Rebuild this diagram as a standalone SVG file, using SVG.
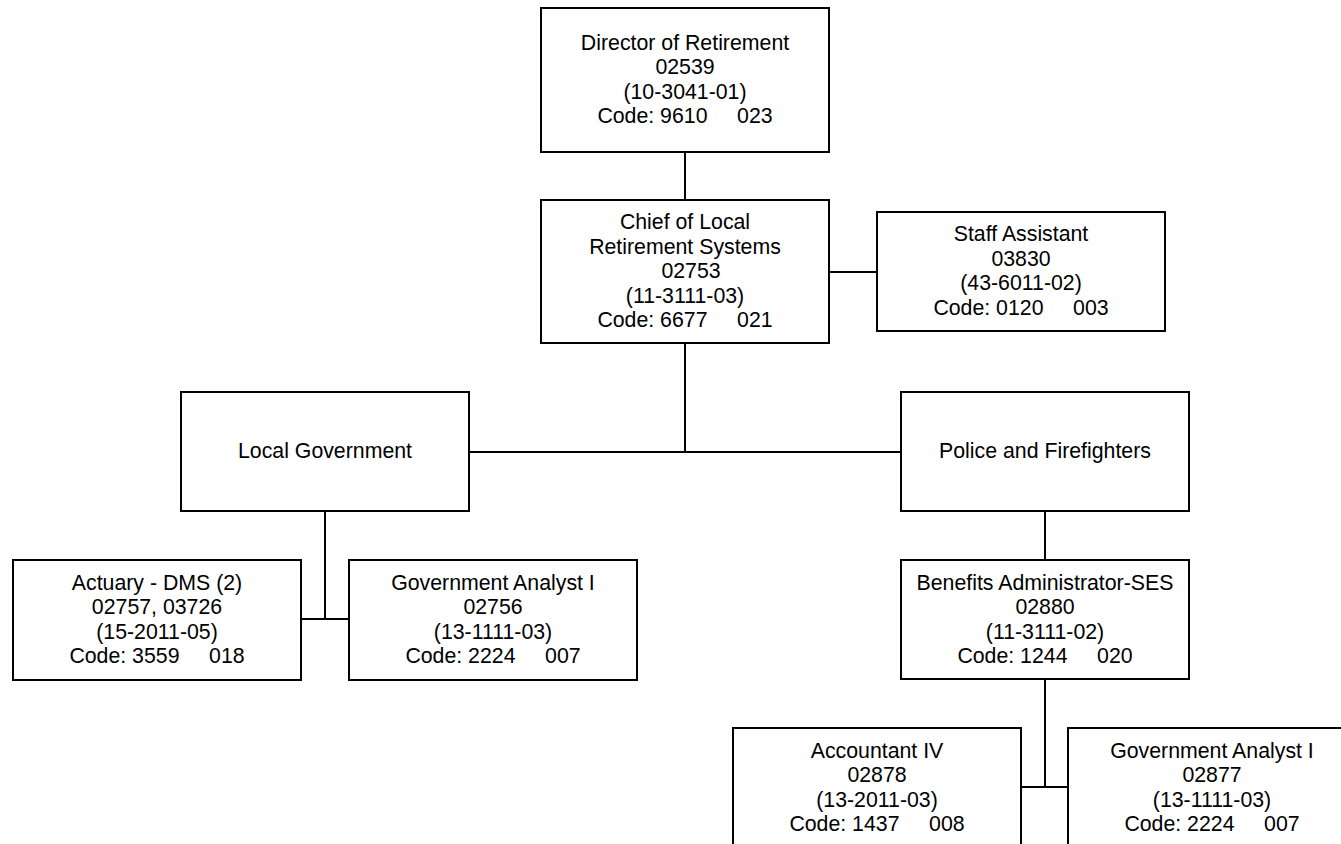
<svg xmlns="http://www.w3.org/2000/svg" width="1341" height="844" viewBox="0 0 1341 844">
  <style>
    .box { fill: #ffffff; stroke: #000000; stroke-width: 2; }
    .wire { fill: none; stroke: #000000; stroke-width: 2; }
    .t { font-family: "Liberation Sans", Arial, Helvetica, sans-serif; font-size: 21.3px; fill: #000000; text-anchor: middle; }
  </style>
  <rect x="0" y="0" width="1341" height="844" fill="#ffffff"/>

  <!-- reporting lines -->
  <g id="connectors">
    <path class="wire" d="M685 152 V200"/>
    <path class="wire" d="M829 272 H877"/>
    <path class="wire" d="M685 343 V452"/>
    <path class="wire" d="M469 452 H901"/>
    <path class="wire" d="M325 511 V619"/>
    <path class="wire" d="M301 619 H349"/>
    <path class="wire" d="M1045 511 V560"/>
    <path class="wire" d="M1045 679 V787"/>
    <path class="wire" d="M1021 787 H1068"/>
  </g>

  <g id="director">
    <rect class="box" x="541" y="8" width="288" height="144"/>
    <text class="t" x="685" y="49.5">Director of Retirement</text>
    <text class="t" x="685" y="74">02539</text>
    <text class="t" x="685" y="98.5">(10-3041-01)</text>
    <text class="t" x="685" y="123" xml:space="preserve">Code: 9610     023</text>
  </g>

  <g id="chief">
    <rect class="box" x="541" y="200" width="288" height="143"/>
    <text class="t" x="685" y="229">Chief of Local</text>
    <text class="t" x="685" y="253.5">Retirement Systems</text>
    <text class="t" x="691" y="278">02753</text>
    <text class="t" x="685" y="302.5">(11-3111-03)</text>
    <text class="t" x="685" y="327" xml:space="preserve">Code: 6677     021</text>
  </g>

  <g id="staff-assistant">
    <rect class="box" x="877" y="212" width="288" height="119"/>
    <text class="t" x="1021" y="241">Staff Assistant</text>
    <text class="t" x="1021" y="265.5">03830</text>
    <text class="t" x="1021" y="290">(43-6011-02)</text>
    <text class="t" x="1021" y="314.5" xml:space="preserve">Code: 0120     003</text>
  </g>

  <g id="local-government">
    <rect class="box" x="181" y="392" width="288" height="119"/>
    <text class="t" x="325" y="458">Local Government</text>
  </g>

  <g id="police-firefighters">
    <rect class="box" x="901" y="392" width="288" height="119"/>
    <text class="t" x="1045" y="458">Police and Firefighters</text>
  </g>

  <g id="actuary">
    <rect class="box" x="13" y="560" width="288" height="120"/>
    <text class="t" x="157" y="589.5">Actuary - DMS (2)</text>
    <text class="t" x="157" y="614">02757, 03726</text>
    <text class="t" x="157" y="638.5">(15-2011-05)</text>
    <text class="t" x="157" y="663" xml:space="preserve">Code: 3559     018</text>
  </g>

  <g id="gov-analyst-local">
    <rect class="box" x="349" y="560" width="288" height="120"/>
    <text class="t" x="493" y="589.5">Government Analyst I</text>
    <text class="t" x="493" y="614">02756</text>
    <text class="t" x="493" y="638.5">(13-1111-03)</text>
    <text class="t" x="493" y="663" xml:space="preserve">Code: 2224     007</text>
  </g>

  <g id="benefits-admin">
    <rect class="box" x="901" y="560" width="288" height="119"/>
    <text class="t" x="1045" y="589.5">Benefits Administrator-SES</text>
    <text class="t" x="1045" y="614">02880</text>
    <text class="t" x="1045" y="638.5">(11-3111-02)</text>
    <text class="t" x="1045" y="663" xml:space="preserve">Code: 1244     020</text>
  </g>

  <g id="accountant">
    <rect class="box" x="733" y="728" width="288" height="130"/>
    <text class="t" x="877" y="757.5">Accountant IV</text>
    <text class="t" x="877" y="782">02878</text>
    <text class="t" x="877" y="806.5">(13-2011-03)</text>
    <text class="t" x="877" y="831" xml:space="preserve">Code: 1437     008</text>
  </g>

  <g id="gov-analyst-police">
    <rect class="box" x="1068" y="728" width="288" height="130"/>
    <text class="t" x="1212" y="757.5">Government Analyst I</text>
    <text class="t" x="1212" y="782">02877</text>
    <text class="t" x="1212" y="806.5">(13-1111-03)</text>
    <text class="t" x="1212" y="831" xml:space="preserve">Code: 2224     007</text>
  </g>
</svg>
